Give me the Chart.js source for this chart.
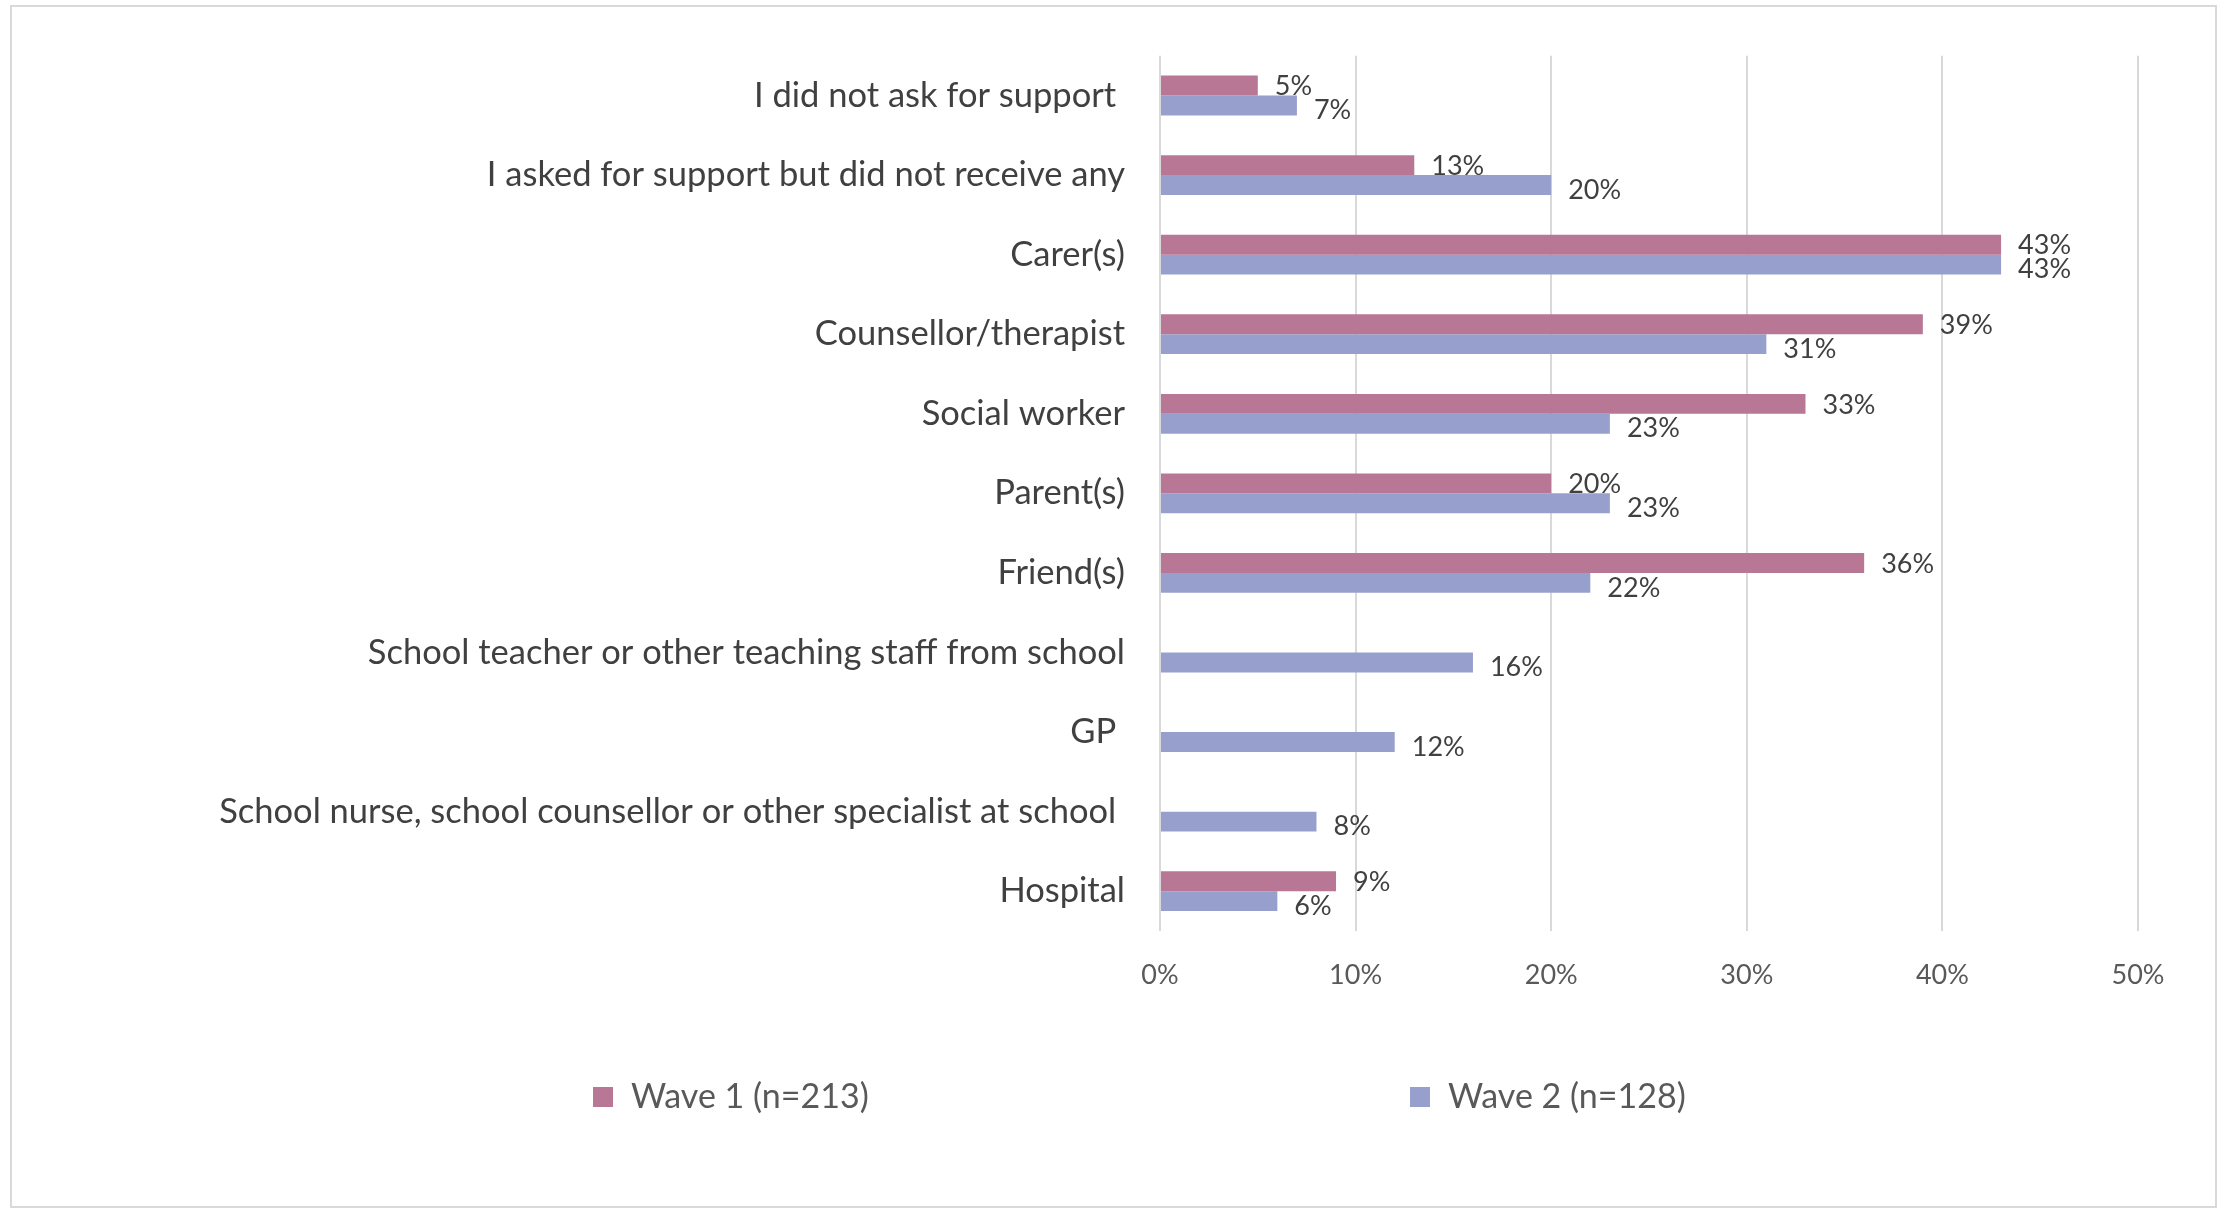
<!DOCTYPE html>
<html>
<head>
<meta charset="utf-8">
<title>Sources of support</title>
<script src="https://cdn.jsdelivr.net/npm/chart.js@4.4.1/dist/chart.umd.min.js"></script>
<style>
  html, body { margin: 0; padding: 0; background: #fff; }
  #wrap { position: relative; width: 2224px; height: 1208px; }
  #frame {
    position: absolute; left: 10px; top: 5px; width: 2207px; height: 1203px;
    border: 2px solid #d9d9d9; box-sizing: border-box; pointer-events: none;
  }
  #chart { position: absolute; left: 0; top: 0; }
</style>
</head>
<body>
<div id="wrap">
  <canvas id="chart" width="2224" height="1208"></canvas>
  <div id="frame"></div>
</div>
<script>
// ─── Data ─────────────────────────────────────────────────────
const categories = [
  'I did not ask for support ',
  'I asked for support but did not receive any',
  'Carer(s)',
  'Counsellor/therapist',
  'Social worker',
  'Parent(s)',
  'Friend(s)',
  'School teacher or other teaching staff from school',
  'GP ',
  'School nurse, school counsellor or other specialist at school ',
  'Hospital'
];
const wave1 = [5, 13, 43, 39, 33, 20, 36, null, null, null, 9];
const wave2 = [7, 20, 43, 31, 23, 23, 22, 16, 12, 8, 6];
const seriesNames = ['Wave 1 (n=213)', 'Wave 2 (n=128)'];
const xTicks = [0, 10, 20, 30, 40, 50];

const FONT = 'Lato, "Open Sans", sans-serif';
const COLORS = ['#b87795', '#97a0cd'];

// ─── Value labels at the end of each bar ──────────────────────
const barValueLabels = {
  id: 'barValueLabels',
  afterDatasetsDraw(chart) {
    const { ctx } = chart;
    const dy = [1, 5]; // second series' labels sit a touch lower
    ctx.save();
    ctx.font = `27px ${FONT}`;
    ctx.fillStyle = '#404040';
    ctx.textAlign = 'left';
    ctx.textBaseline = 'middle';
    chart.data.datasets.forEach((ds, i) => {
      const meta = chart.getDatasetMeta(i);
      meta.data.forEach((bar, j) => {
        const v = ds.data[j];
        if (v == null) return;
        ctx.fillText(v + '%', bar.x + 17, bar.y + dy[i]);
      });
    });
    ctx.restore();
  }
};

// ─── Legend, spread out under the plot ────────────────────────
const spreadLegend = {
  id: 'spreadLegend',
  afterDraw(chart) {
    const { ctx } = chart;
    const xs = [593, 1410];
    const y = 1097;
    ctx.save();
    ctx.font = `34px ${FONT}`;
    ctx.textAlign = 'left';
    ctx.textBaseline = 'middle';
    chart.data.datasets.forEach((ds, i) => {
      ctx.fillStyle = ds.backgroundColor;
      ctx.fillRect(xs[i], y - 10, 20, 20);
      ctx.fillStyle = '#595959';
      ctx.fillText(ds.label, xs[i] + 38, y);
    });
    ctx.restore();
  }
};

new Chart(document.getElementById('chart'), {
  type: 'bar',
  data: {
    labels: categories,
    datasets: [
      { label: seriesNames[0], data: wave1, backgroundColor: COLORS[0] },
      { label: seriesNames[1], data: wave2, backgroundColor: COLORS[1] }
    ]
  },
  options: {
    indexAxis: 'y',
    responsive: false,
    animation: false,
    categoryPercentage: 0.5,
    barPercentage: 1.0,
    layout: { padding: { top: 54, right: 86, left: 0, bottom: 0 } },
    plugins: {
      legend: { display: false },
      tooltip: { enabled: false }
    },
    scales: {
      x: {
        min: 0,
        max: 50,
        afterBuildTicks: s => { s.ticks = xTicks.map(v => ({ value: v })); },
        afterFit: s => { s.height = 277; },
        grid: { color: '#d9d9d9', lineWidth: 2, drawTicks: false },
        border: { display: false },
        ticks: {
          padding: 28,
          color: '#595959',
          font: { family: FONT, size: 27 },
          callback: v => v + '%'
        }
      },
      y: {
        afterFit: s => { s.width = 1160; },
        grid: { display: false, drawTicks: false },
        border: { display: false },
        ticks: {
          padding: 35,
          color: '#404040',
          font: { family: FONT, size: 34.5 }
        }
      }
    }
  },
  plugins: [barValueLabels, spreadLegend]
});
</script>
</body>
</html>
